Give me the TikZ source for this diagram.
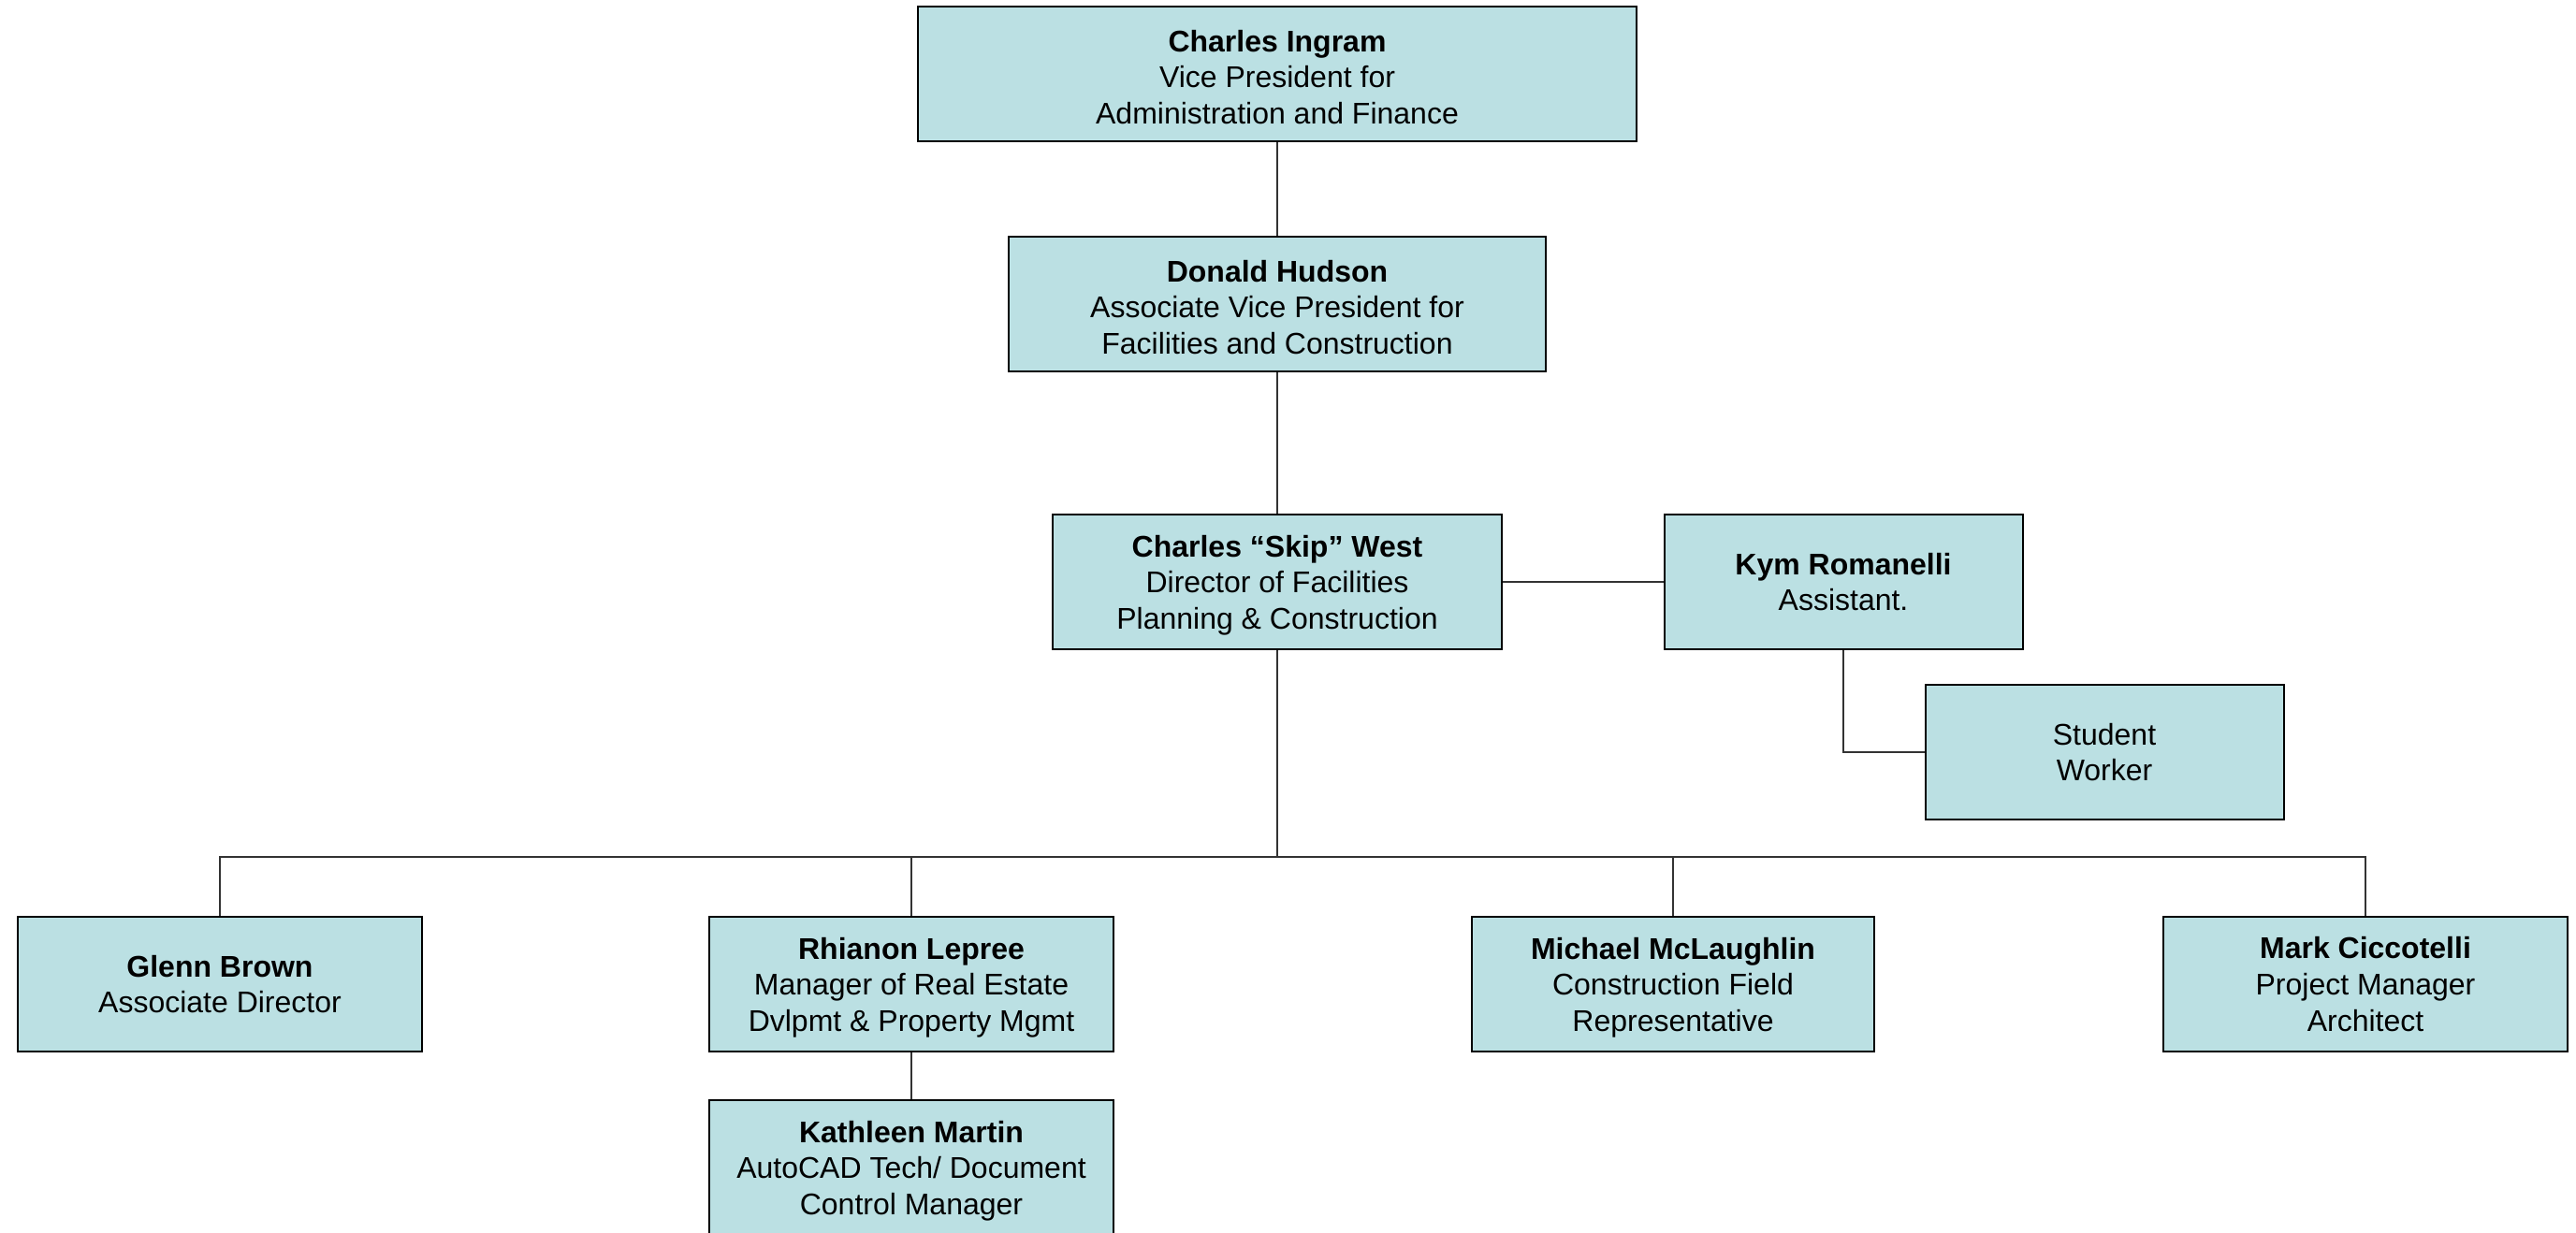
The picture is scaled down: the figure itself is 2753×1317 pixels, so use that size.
\documentclass[tikz,border=0pt]{standalone}
\usepackage{fontspec}
\setmainfont{Liberation Sans}
\definecolor{boxfill}{HTML}{BBE0E3}
\tikzset{person/.style={draw, fill=boxfill, line width=0.6pt, minimum height=43.2pt,
    inner sep=0pt, align=center, font=\fontsize{9.6}{11.6}\selectfont}}
\tikzset{link/.style={line width=0.45pt, black!80}}
\newcommand{\who}[1]{\textbf{#1}}
% three-line boxes sit a little lower
\newcommand{\whotall}[1]{\rule{0pt}{9pt}\textbf{#1}}

\begin{document}
\begin{tikzpicture}[x=0.3pt, y=-0.3pt]
          \clip (0,0) rectangle (2753,1317);
          \useasboundingbox (0,0) rectangle (2753,1317);
          % Top of the chart
          \node[person, minimum width=230.4pt] (ingram) at (1365,79)
            {\whotall{Charles Ingram}\\Vice President for\\Administration and Finance};
          \node[person, minimum width=172.2pt] (hudson) at (1365,325)
            {\whotall{Donald Hudson}\\Associate Vice President for\\Facilities and Construction};
          \node[person, minimum width=144pt] (west) at (1365,622)
            {\whotall{Charles “Skip” West}\\Director of Facilities\\Planning \& Construction};
          \node[person, minimum width=114.9pt] (romanelli) at (1970,622)
            {\who{Kym Romanelli}\\Assistant.};
          \node[person, minimum width=114.9pt] (student) at (2249,804)
            {Student\\Worker};

          % Staff row
          \node[person, minimum width=129.6pt] (brown) at (235,1052)
            {\who{Glenn Brown}\\Associate Director};
          \node[person, minimum width=129.6pt] (lepree) at (974,1052)
            {\whotall{Rhianon Lepree}\\Manager of Real Estate\\Dvlpmt \& Property Mgmt};
          \node[person, minimum width=129pt] (mclaughlin) at (1788,1052)
            {\whotall{Michael McLaughlin}\\Construction Field\\Representative};
          \node[person, minimum width=129.6pt] (ciccotelli) at (2528,1052)
            {\who{Mark Ciccotelli}\\Project Manager\\Architect};
          \node[person, minimum width=129.6pt] (martin) at (974,1248)
            {\whotall{Kathleen Martin}\\AutoCAD Tech/ Document\\Control Manager};

          % Lines
          \coordinate (bus) at (1365,916);
          \draw[link] (ingram) -- (hudson);
          \draw[link] (hudson) -- (west);
          \draw[link] (west) -- (romanelli);
          \draw[link] (romanelli.south) |- (student.west);
          \draw[link] (west.south) -- (bus);
          \foreach \n in {brown,lepree,mclaughlin,ciccotelli}
            \draw[link] (\n.north) |- (bus);
          \draw[link] (lepree) -- (martin);
        \end{tikzpicture}
\end{document}
